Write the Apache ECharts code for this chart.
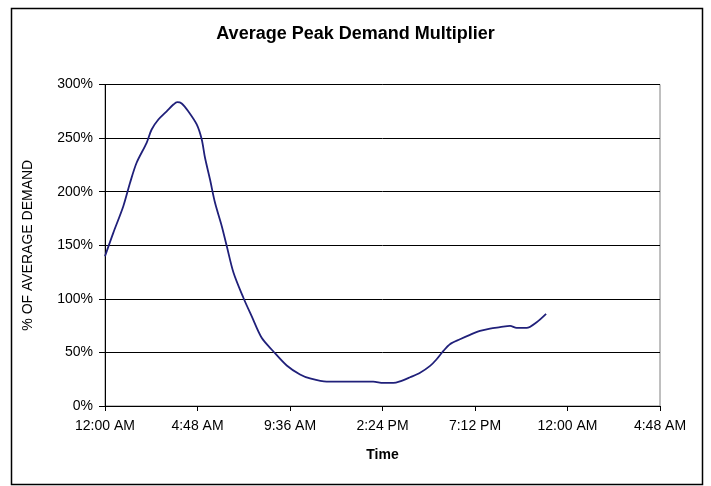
<!DOCTYPE html>
<html>
<head>
<meta charset="utf-8">
<title>Average Peak Demand Multiplier</title>
<script src="https://cdn.jsdelivr.net/npm/echarts@6/dist/echarts.min.js"></script>
<style>
  html, body { margin: 0; padding: 0; background: #ffffff; }
  #chart { width: 711px; height: 486px; }
</style>
</head>
<body>
<div id="chart"></div>
<script>
// Hour of day (0 = midnight) for each reading
const timeHours = [
  0, 0.43, 0.95, 1.30, 1.64, 2.16, 2.42, 2.77, 3.20, 3.55, 3.75, 3.98,
  4.32, 4.76, 5.02, 5.19, 5.45, 5.71, 6.06, 6.32, 6.67, 7.18, 7.61, 8.13,
  8.73, 9.43, 10.12, 10.64, 11.5, 12.89, 13.92, 14.44, 14.96, 15.31, 15.83,
  16.35, 16.87, 17.21, 17.56, 17.9, 18.42, 18.94, 19.46, 19.98, 20.5, 21.02,
  21.36, 21.88, 22.40, 22.89
];

// Demand as a percentage of the daily average
const demandPct = [
  139.8, 161.6, 186.4, 208.3, 227, 245.6, 258, 267.3, 275, 281.3, 283.5, 282.3,
  275, 262.7, 248.7, 231.6, 211.3, 189.6, 167.8, 149.1, 124.3, 101, 83.8, 63.6,
  51.1, 37.8, 29.4, 25.7, 22.7, 22.7, 22.7, 21.5, 21.5, 23, 26.8,
  31, 37.4, 43.6, 51.4, 57.7, 62.3, 66.4, 70, 72.2, 73.5, 74.8,
  72.9, 72.9, 78.2, 86
];

// Time axis labels, one every 4.8 hours
const timeTickLabels = ['12:00 AM', '4:48 AM', '9:36 AM', '2:24 PM', '7:12 PM', '12:00 AM', '4:48 AM'];
const TICK_STEP = 4.8;

const seriesData = timeHours.map((h, i) => [h, demandPct[i]]);

const chart = echarts.init(document.getElementById('chart'), null, { renderer: 'canvas' });

const FONT = 'Arial, "Liberation Sans", sans-serif';

chart.setOption({
  animation: false,
  backgroundColor: '#ffffff',
  title: {
    text: 'Average Peak Demand Multiplier',
    left: 'center',
    top: 20,
    textStyle: { fontFamily: FONT, fontSize: 18, fontWeight: 'bold', color: '#000000' }
  },
  graphic: [{
    type: 'rect',
    silent: true,
    shape: { x: 11.5, y: 8.5, width: 691, height: 476 },
    style: { fill: 'none', stroke: '#000000', lineWidth: 1.5 }
  }],
  grid: {
    left: 105, right: 51, top: 84.5, bottom: 80,
    show: true, borderColor: '#808080', borderWidth: 1, backgroundColor: 'transparent'
  },
  xAxis: {
    type: 'value',
    min: 0,
    max: TICK_STEP * (timeTickLabels.length - 1),
    interval: TICK_STEP,
    name: 'Time',
    nameLocation: 'middle',
    nameGap: 42,
    nameTextStyle: { fontFamily: FONT, fontSize: 14, fontWeight: 'bold', color: '#000000' },
    axisLine: { show: true, lineStyle: { color: '#000000', width: 1 } },
    axisTick: { show: true, inside: false, length: 5, lineStyle: { color: '#000000' } },
    axisLabel: {
      margin: 13,
      fontFamily: FONT, fontSize: 14, color: '#000000',
      formatter: v => timeTickLabels[Math.round(v / TICK_STEP)] || ''
    },
    splitLine: { show: false }
  },
  yAxis: {
    type: 'value',
    min: 0,
    max: 300,
    interval: 50,
    name: '% OF AVERAGE DEMAND',
    nameLocation: 'middle',
    nameGap: 70,
    nameTextStyle: { fontFamily: FONT, fontSize: 14, color: '#000000' },
    axisLine: { show: true, lineStyle: { color: '#000000', width: 1 } },
    axisTick: { show: true, inside: false, length: 6, lineStyle: { color: '#000000' } },
    axisLabel: {
      margin: 12,
      fontFamily: FONT, fontSize: 14, color: '#000000',
      formatter: '{value}%'
    },
    splitLine: { show: true, lineStyle: { color: '#000000', width: 1 } }
  },
  series: [{
    type: 'line',
    data: seriesData,
    showSymbol: false,
    smooth: 0.3,
    lineStyle: { color: '#20207a', width: 1.8 },
    itemStyle: { color: '#20207a' }
  }]
});
</script>
</body>
</html>
